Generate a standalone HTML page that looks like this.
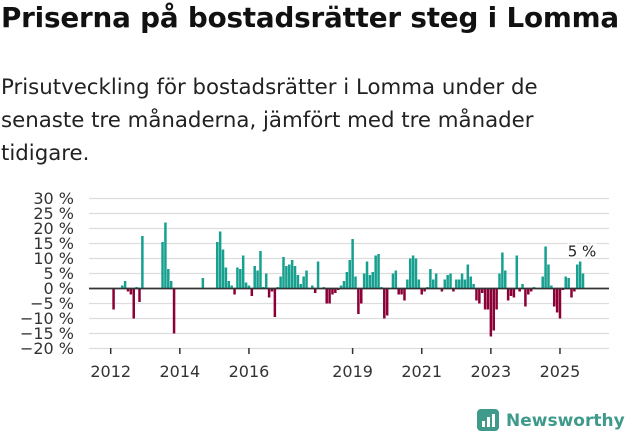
<!DOCTYPE html>
<html><head><meta charset="utf-8"><style>
body{margin:0;background:#fff;width:631px;height:439px;overflow:hidden;font-family:"Liberation Sans","DejaVu Sans",sans-serif;color:#111}
h1{position:absolute;left:1px;top:1px;margin:0;font-size:27.8px;font-weight:bold;letter-spacing:-0.2px;font-family:"DejaVu Sans","Liberation Sans",sans-serif;white-space:nowrap}
p{position:absolute;left:1px;top:71px;margin:0;font-size:21.3px;line-height:33px;width:560px;color:#222;font-family:"DejaVu Sans","Liberation Sans",sans-serif}
svg{position:absolute;left:0;top:0}
</style></head><body>
<h1>Priserna på bostadsrätter steg i Lomma</h1>
<p>Prisutveckling för bostadsrätter i Lomma under de senaste tre månaderna, jämfört med tre månader tidigare.</p>
<svg id="chart" width="631" height="439"></svg>
<script>
const values=[
0,-7,0,0,1,2.5,-1,-2,-10,0.5,-4.5,17.5,
0,0,0,0,0,0,15.5,22,6.5,2.5,-15,0,
0,0,0,0,0,0,0,0,3.5,0,0,0,
0,15.5,19,13,7,2.5,1,-2,7,6.5,11,2,
1,-2.5,7.5,6,12.5,0.5,5,-3,-1,-9.5,0.5,4,
10.5,7.5,8,9.5,7.5,4.5,1.5,4,6,0,1,-1.5,
9,0,0.5,-5,-5,-2,-1.5,-0.5,1,2.5,5.5,9.5,
16.5,4,-8.5,-5,5,9,4.5,5.5,11,11.5,0.5,-10,
-9,0,5,6,-2,-2,-4,3,10,11,10,3,
-2,-1,0.5,6.5,3,5,0,-1,3,4.5,5,-1,
3,3,5,3,8,4,1.5,-4,-5,-1.5,-7,-7,
-16,-14,-7,5,12,6,-4,-2.5,-3,11,-1,1.5,
-6,-2,-1,0.5,0,0,4,14,8,1,-6,-8,
-10,-0.5,4,3.5,-3,-1,8,9,5];
const startYear=2012;
const yTicks=[30,25,20,15,10,5,0,-5,-10,-15,-20];
const xTickYears=[2012,2014,2016,2019,2021,2023,2025];
const lastLabel="5 %";
const NS="http://www.w3.org/2000/svg";
const svg=document.getElementById('chart');
const x0=110.7, pxMonth=2.88, left=89, right=609;
function xS(i){return x0+i*pxMonth;}
function yS(v){return 288.5-v*3;}
function mk(t,a,txt){const e=document.createElementNS(NS,t);for(const k in a)e.setAttribute(k,a[k]);if(txt!==undefined)e.textContent=txt;svg.appendChild(e);return e;}
yTicks.forEach(v=>{
  const g=mk('line',{x1:left,x2:right,y1:yS(v),y2:yS(v),stroke:v===0?'#333':'#ddd','stroke-width':v===0?1.6:1.2});
  
  
  const t=mk('text',{x:74,y:yS(v)+5.5,'text-anchor':'end','font-size':16,fill:'#333','font-family':'"DejaVu Sans","Liberation Sans",sans-serif'},(v<0?'\u2212'+(-v):v)+' %');
  
  
});
values.forEach((v,i)=>{
  if(v===0)return;
  const y=Math.min(yS(v),yS(0)), h=Math.abs(yS(v)-yS(0));
  const r=mk('rect',{x:xS(i)-1.25,y:y,width:2.5,height:h,fill:v>0?'#17a08f':'#8b0037'});
  
  
});
mk('line',{x1:left,x2:right,y1:yS(0),y2:yS(0),stroke:'#333','stroke-width':1.6});
xTickYears.forEach(yr=>{
  const x=xS((yr-startYear)*12);
  const l=mk('line',{x1:x,x2:x,y1:348,y2:354,stroke:'#333','stroke-width':1.5});
  
  
  const t=mk('text',{x:x,y:377,'text-anchor':'middle','font-size':16,fill:'#333','font-family':'"DejaVu Sans","Liberation Sans",sans-serif'},String(yr));
  
  
});
const li=values.length-1;
const lab=mk('text',{x:xS(li)-1,y:yS(values[li])-17,'text-anchor':'middle','font-size':15,fill:'#222','font-family':'"DejaVu Sans","Liberation Sans",sans-serif',stroke:'#fff','stroke-width':4,'paint-order':'stroke'},lastLabel);


</script>
<div style="position:absolute;left:477px;top:408px;height:26px;display:flex;align-items:center">
<svg width="24" height="24" style="position:static"><rect x="0" y="0" width="22" height="22" rx="4" fill="#3f9a8c"/><rect x="5" y="12" width="3" height="6" fill="#fff"/><rect x="10" y="8" width="3" height="10" fill="#fff"/><rect x="15" y="5" width="3" height="13" fill="#fff"/></svg>
<span style="margin-left:5px;font-size:17px;font-weight:bold;color:#3f9a8c;font-family:'DejaVu Sans','Liberation Sans',sans-serif">Newsworthy</span>
</div>
</body></html>
